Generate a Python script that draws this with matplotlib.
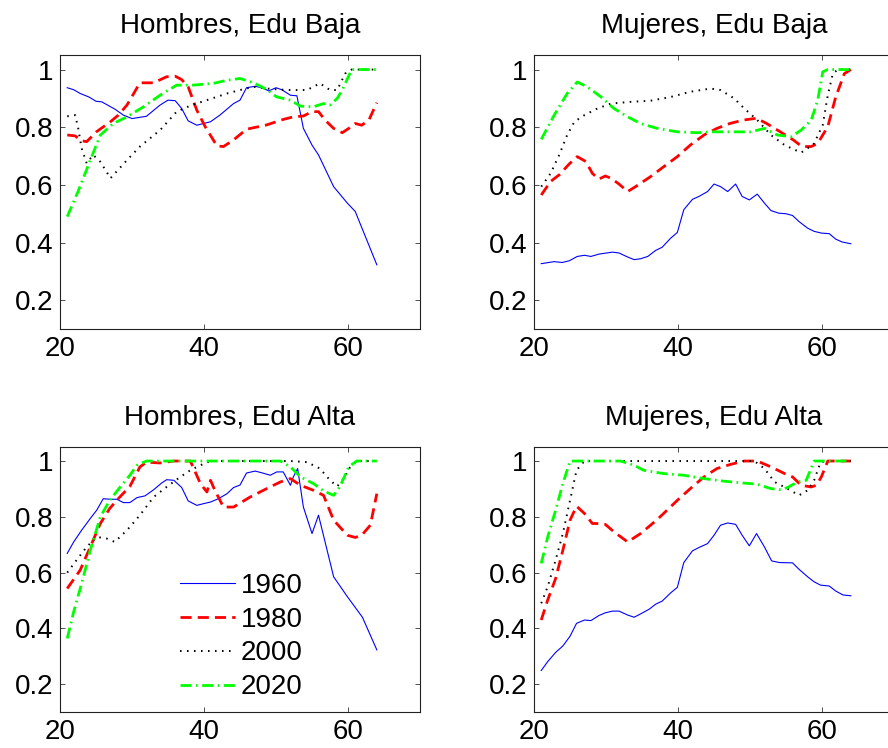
import matplotlib
matplotlib.use("Agg")
import matplotlib.pyplot as plt

plt.rcParams['font.family'] = ['Liberation Sans', 'DejaVu Sans']

years = ['1960', '1980', '2000', '2020']

# Hombres, Edu Baja
hb_x60 = [21, 21.9, 22.8, 24, 25, 25.8, 27.6, 28.8, 30, 32, 33.9, 35, 36, 36.9, 37.8, 39, 40.9, 42.2, 44.1, 45,
          45.9, 47.1, 48, 49, 50, 50.8, 52, 52.9, 53.8, 55, 55.9, 58, 59.9, 61, 64]
hb_y60 = [0.937, 0.93, 0.917, 0.905, 0.89, 0.888, 0.863, 0.842, 0.83, 0.838, 0.877, 0.894, 0.892, 0.865, 0.822,
          0.807, 0.819, 0.842, 0.882, 0.894, 0.937, 0.942, 0.937, 0.926, 0.937, 0.93, 0.911, 0.909, 0.796, 0.738,
          0.704, 0.594, 0.537, 0.508, 0.323]
hb_x80 = [21, 22.1, 23, 23.7, 25.1, 27, 28.1, 29.3, 31.1, 33, 34.8, 36, 36.9, 37.8, 39, 40.2, 41.8, 42.7, 44.1,
          45.9, 48.7, 51, 52.4, 53.8, 55, 55.9, 56.8, 58, 59.2, 60.1, 61, 61.9, 62.9, 64]
hb_y80 = [0.773, 0.77, 0.753, 0.75, 0.785, 0.819, 0.842, 0.877, 0.954, 0.954, 0.975, 0.977, 0.965, 0.94, 0.859,
          0.8, 0.735, 0.733, 0.756, 0.793, 0.808, 0.827, 0.836, 0.839, 0.854, 0.854, 0.825, 0.796, 0.781, 0.796,
          0.813, 0.807, 0.825, 0.885]
hb_x00 = [21, 22.1, 22.5, 23, 23.7, 24.6, 25.6, 26.3, 27, 29.3, 31.1, 33.9, 36.2, 38.3, 40.4, 43.2, 45, 46.9,
          48.7, 51.5, 54.3, 56.1, 57.5, 58.5, 59.6, 60.5, 64]
hb_y00 = [0.838, 0.842, 0.8, 0.727, 0.675, 0.704, 0.68, 0.652, 0.623, 0.686, 0.733, 0.79, 0.854, 0.877, 0.894,
          0.917, 0.929, 0.94, 0.934, 0.929, 0.929, 0.952, 0.929, 0.929, 0.986, 1.0, 1.0]
hb_x20 = [21, 22.5, 24.2, 25.6, 27.4, 29.3, 31.6, 33.9, 36.2, 38.5, 41.3, 43.2, 45, 46.9, 48.7, 50.1, 52, 53.4,
          55.2, 56.6, 57.5, 58.5, 59.2, 60.5, 64]
hb_y20 = [0.49, 0.577, 0.686, 0.773, 0.813, 0.836, 0.871, 0.911, 0.946, 0.946, 0.952, 0.963, 0.969, 0.954, 0.931,
          0.905, 0.894, 0.873, 0.871, 0.882, 0.877, 0.9, 0.929, 1.0, 1.0]

# Mujeres, Edu Baja
mb_x60 = [21, 22.8, 23.9, 24.9, 26, 27, 27.9, 29, 30.9, 31.8, 33, 33.9, 34.8, 35.8, 36.9, 37.8, 39, 39.9, 40.8,
          42, 42.9, 44.1, 45, 45.9, 46.9, 48, 48.9, 49.9, 51, 52, 52.9, 54, 55, 55.9, 56.8, 58, 58.9, 59.9, 61,
          61.9, 62.8, 64]
mb_y60 = [0.327, 0.334, 0.331, 0.337, 0.352, 0.356, 0.352, 0.36, 0.367, 0.364, 0.35, 0.341, 0.344, 0.352, 0.373,
          0.384, 0.416, 0.435, 0.514, 0.55, 0.56, 0.577, 0.603, 0.594, 0.577, 0.603, 0.56, 0.548, 0.568, 0.537,
          0.511, 0.502, 0.5, 0.494, 0.473, 0.45, 0.439, 0.433, 0.431, 0.412, 0.402, 0.396]
mb_x80 = [21, 22.3, 23.5, 24.9, 26, 27.2, 28.1, 29, 29.9, 30.7, 31.8, 33, 34.1, 36.2, 38, 39.9, 41.7, 43.6, 45.4,
          47.2, 49.1, 50.9, 52.3, 54.2, 56, 57.2, 58.5, 59.4, 60.8, 61.9, 63.1, 64]
mb_y80 = [0.565, 0.612, 0.635, 0.673, 0.698, 0.681, 0.64, 0.62, 0.631, 0.623, 0.603, 0.577, 0.594, 0.629, 0.663,
          0.698, 0.738, 0.773, 0.796, 0.813, 0.825, 0.831, 0.813, 0.784, 0.756, 0.733, 0.733, 0.744, 0.802, 0.905,
          0.986, 1.0]
mb_x00 = [21, 22.3, 23.5, 24.6, 25.6, 27, 28.8, 30.7, 33.4, 36.2, 39, 41.7, 44.5, 45.9, 47.8, 49.2, 51, 52.9,
          54.8, 56.1, 57.1, 58, 58.9, 60.1, 60.8, 61.5, 62.2, 64]
mb_y00 = [0.594, 0.64, 0.704, 0.773, 0.819, 0.842, 0.865, 0.882, 0.888, 0.892, 0.905, 0.923, 0.934, 0.929, 0.9,
          0.865, 0.825, 0.773, 0.738, 0.723, 0.712, 0.727, 0.744, 0.808, 0.911, 0.986, 1.0, 1.0]
mb_x20 = [21, 22.8, 24.6, 26, 27.4, 29.3, 31.1, 33, 34.8, 37.1, 39.9, 42.7, 44.5, 46.9, 49.2, 50.1, 52, 53.8,
          55.7, 57.1, 58.5, 59.4, 60.1, 60.8, 64]
mb_y20 = [0.758, 0.842, 0.917, 0.957, 0.94, 0.905, 0.865, 0.836, 0.813, 0.796, 0.784, 0.781, 0.784, 0.784, 0.784,
          0.784, 0.796, 0.773, 0.767, 0.79, 0.825, 0.894, 0.992, 1.0, 1.0]

# Hombres, Edu Alta
ha_x60 = [21, 21.9, 23, 24.2, 25.1, 26, 26.9, 27.9, 28.8, 29.7, 30.7, 31.8, 33, 34.1, 34.8, 35.8, 36.9, 37.8, 39,
          39.9, 40.9, 42, 43.2, 44.1, 45, 45.9, 47.1, 48, 49.2, 50.1, 51, 52, 52.4, 53, 53.8, 55, 55.9, 58, 59.9,
          62, 64]
ha_y60 = [0.669, 0.71, 0.752, 0.794, 0.824, 0.865, 0.863, 0.863, 0.851, 0.851, 0.869, 0.875, 0.897, 0.921, 0.933,
          0.931, 0.905, 0.857, 0.841, 0.847, 0.853, 0.865, 0.883, 0.905, 0.914, 0.957, 0.964, 0.958, 0.949, 0.961,
          0.961, 0.913, 0.943, 0.973, 0.835, 0.74, 0.806, 0.585, 0.514, 0.44, 0.323]
ha_x80 = [21, 22.8, 24.2, 25.6, 26.9, 28.3, 29.7, 31.1, 32, 33.9, 35.8, 38.1, 39.5, 40.4, 40.9, 41.5, 42.7, 44.1,
          46.4, 48.7, 50.6, 52, 53.4, 55.2, 56.6, 58, 59.9, 61, 61.9, 63.1, 64]
ha_y80 = [0.543, 0.609, 0.692, 0.776, 0.83, 0.871, 0.909, 0.979, 0.996, 0.993, 1.0, 1.0, 0.919, 0.889, 0.931,
          0.895, 0.835, 0.835, 0.871, 0.901, 0.925, 0.937, 0.913, 0.895, 0.877, 0.788, 0.734, 0.726, 0.734, 0.77,
          0.883]
ha_x00 = [21, 22.3, 23.7, 25.1, 26.5, 27.6, 29.3, 31.1, 33, 34.8, 36.7, 38.1, 39.5, 40.9, 52, 54.3, 56.1, 57.5,
          58.5, 59.4, 60.3, 61.2, 64]
ha_y00 = [0.6, 0.645, 0.692, 0.728, 0.722, 0.71, 0.752, 0.806, 0.871, 0.907, 0.943, 0.967, 0.985, 1.0, 1.0, 0.996,
          0.973, 0.931, 0.909, 0.937, 0.979, 1.0, 1.0]
ha_x20 = [21, 21.9, 23, 24.2, 25.6, 26.9, 28.3, 29.7, 30.7, 32, 50.6, 52, 53.4, 55.2, 56.6, 58, 58.9, 60.1, 61.2,
          64]
ha_y20 = [0.364, 0.46, 0.561, 0.68, 0.8, 0.859, 0.905, 0.949, 0.985, 1.0, 1.0, 0.979, 0.943, 0.919, 0.893, 0.877,
          0.909, 0.979, 1.0, 1.0]

# Mujeres, Edu Alta
ma_x60 = [21, 21.9, 23, 24, 25, 25.9, 27, 27.9, 29, 29.9, 30.9, 31.8, 33, 33.9, 34.8, 36, 36.9, 37.8, 39, 39.9,
          40.8, 42, 42.9, 44.1, 45, 45.9, 46.9, 48, 48.9, 49.9, 50.9, 52, 53, 54.1, 55.9, 56.8, 58, 58.9, 59.8,
          61, 61.9, 62.9, 64]
ma_y60 = [0.249, 0.281, 0.314, 0.337, 0.372, 0.418, 0.43, 0.428, 0.446, 0.456, 0.462, 0.462, 0.448, 0.44, 0.452,
          0.469, 0.487, 0.498, 0.528, 0.547, 0.636, 0.678, 0.69, 0.704, 0.734, 0.77, 0.778, 0.773, 0.734, 0.696,
          0.74, 0.692, 0.642, 0.636, 0.635, 0.612, 0.585, 0.567, 0.555, 0.552, 0.534, 0.52, 0.517]
ma_x80 = [21, 21.9, 23, 24, 25, 25.9, 27, 28.1, 29, 29.9, 31.1, 33, 34.8, 37.1, 39.9, 41.7, 43.6, 45.4, 47.3,
          49.2, 51, 52.9, 54.8, 55.9, 57.1, 58.5, 59.2, 59.9, 60.8, 64]
ma_y80 = [0.43, 0.502, 0.579, 0.68, 0.788, 0.838, 0.812, 0.776, 0.776, 0.773, 0.746, 0.71, 0.74, 0.79, 0.859,
          0.901, 0.943, 0.973, 0.988, 1.0, 1.0, 0.979, 0.955, 0.943, 0.913, 0.907, 0.913, 0.943, 1.0, 1.0]
ma_x00 = [21, 21.9, 23, 24, 25, 25.9, 27, 50.6, 52, 53.4, 55.2, 56.8, 58, 58.9, 59.8, 60.8, 64]
ma_y00 = [0.49, 0.55, 0.645, 0.74, 0.859, 0.967, 1.0, 1.0, 0.973, 0.925, 0.901, 0.877, 0.895, 0.931, 0.996, 1.0,
          1.0]
ma_x20 = [21, 21.9, 23, 24, 25, 32, 33.9, 35.2, 38, 40.8, 43.6, 46.3, 49.1, 51, 52.9, 54.3, 55.2, 56.6, 57.8,
          58.9, 64]
ma_y20 = [0.633, 0.728, 0.824, 0.919, 1.0, 1.0, 0.985, 0.967, 0.955, 0.949, 0.937, 0.928, 0.921, 0.917, 0.901,
          0.897, 0.905, 0.925, 0.931, 1.0, 1.0]

panels = [
    ("Hombres, Edu Baja", [(hb_x60, hb_y60), (hb_x80, hb_y80), (hb_x00, hb_y00), (hb_x20, hb_y20)]),
    ("Mujeres, Edu Baja", [(mb_x60, mb_y60), (mb_x80, mb_y80), (mb_x00, mb_y00), (mb_x20, mb_y20)]),
    ("Hombres, Edu Alta", [(ha_x60, ha_y60), (ha_x80, ha_y80), (ha_x00, ha_y00), (ha_x20, ha_y20)]),
    ("Mujeres, Edu Alta", [(ma_x60, ma_y60), (ma_x80, ma_y80), (ma_x00, ma_y00), (ma_x20, ma_y20)]),
]

styles = [
    dict(color=(0, 0, 1), lw=0.8, ls='-'),
    dict(color=(1, 0, 0), lw=2.0, ls=(0, (4, 2.2))),
    dict(color='k', lw=1.4, ls=(0, (0.8, 2.8))),
    dict(color=(0, 1, 0), lw=2.0, ls=(0, (4, 1.6, 0.6, 1.6))),
]

# axes rectangles in figure fractions (left, bottom, width, height)
rects = [
    (0.0676, 0.560, 0.4054, 0.3663),
    (0.6014, 0.560, 0.4054, 0.3663),
    (0.0676, 0.048, 0.4054, 0.3543),
    (0.6014, 0.048, 0.4054, 0.3543),
]

fs = 20

fig = plt.figure(figsize=(8.88, 7.48), dpi=100)

for k, (title, series) in enumerate(panels):
    ax = fig.add_axes(rects[k])
    for (xs, ys), st, lab in zip(series, styles, years):
        ax.plot(xs, ys, color=st['color'], lw=st['lw'], linestyle=st['ls'], label=lab)
    ax.set_xlim(20, 70)
    ax.set_ylim(0.1, 1.05)
    ax.set_xticks([20, 40, 60])
    ax.set_yticks([0.2, 0.4, 0.6, 0.8, 1.0])
    ax.set_yticklabels(['0.2', '0.4', '0.6', '0.8', '1'])
    ax.tick_params(direction='in', top=True, right=True, length=3.5, width=0.6,
                   labelsize=fs, pad=5, color='#333333')
    for sp in ax.spines.values():
        sp.set_linewidth(0.8)
        sp.set_color('#222222')
    ax.set_title(title, fontsize=fs, pad=16)
    if k == 2:
        ax.legend(loc='center left', bbox_to_anchor=(0.333, 0.285), frameon=False, fontsize=fs,
                  handlelength=2.0, handletextpad=0.2, labelspacing=0.28,
                  borderpad=0, borderaxespad=0)

fig.savefig('out.png', dpi=100)
